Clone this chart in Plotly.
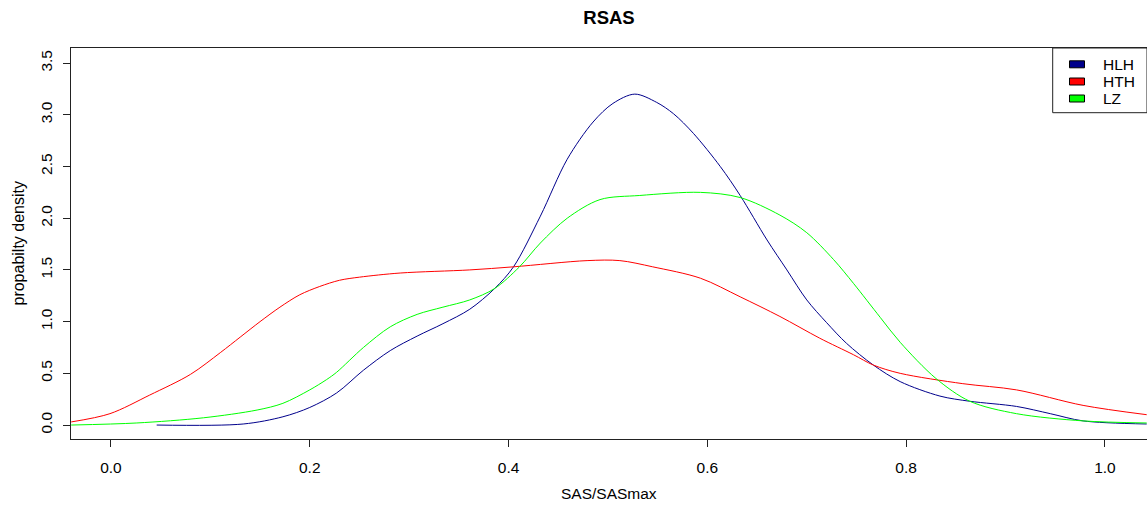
import plotly.graph_objects as go

# ---- data ----
series_names = ["HLH", "HTH", "LZ"]
series_colors = ["#00008B", "#FF0000", "#00FF00"]

hlh_x = [0.046, 0.133, 0.173, 0.200, 0.227, 0.254, 0.281, 0.308, 0.334, 0.361, 0.386,
         0.405, 0.432, 0.459, 0.485, 0.505, 0.527, 0.549, 0.566, 0.586, 0.613, 0.633,
         0.660, 0.680, 0.700, 0.720, 0.740, 0.767, 0.794, 0.834, 0.864, 0.911, 0.945,
         0.978, 1.042]
hlh_y = [0.00, 0.01, 0.08, 0.17, 0.31, 0.53, 0.72, 0.86, 0.98, 1.12, 1.32,
         1.53, 2.02, 2.57, 2.93, 3.11, 3.20, 3.12, 3.01, 2.82, 2.50, 2.22,
         1.79, 1.50, 1.21, 0.99, 0.79, 0.58, 0.42, 0.28, 0.23, 0.18, 0.11,
         0.04, 0.01]

hth_x = [-0.040, -0.001, 0.039, 0.080, 0.110, 0.130, 0.150, 0.170, 0.190, 0.210, 0.230,
         0.250, 0.291, 0.361, 0.405, 0.479, 0.512, 0.545, 0.593, 0.633, 0.673, 0.713,
         0.747, 0.767, 0.794, 0.857, 0.911, 0.978, 1.042]
hth_y = [0.03, 0.11, 0.29, 0.49, 0.70, 0.85, 1.00, 1.14, 1.26, 1.34, 1.40,
         1.43, 1.47, 1.50, 1.53, 1.59, 1.59, 1.53, 1.42, 1.24, 1.05, 0.84,
         0.68, 0.58, 0.50, 0.40, 0.34, 0.19, 0.10]

lz_x = [-0.040, 0.026, 0.093, 0.147, 0.173, 0.200, 0.217, 0.227, 0.254, 0.281, 0.308,
        0.334, 0.361, 0.386, 0.411, 0.432, 0.459, 0.492, 0.532, 0.593, 0.633, 0.673,
        0.700, 0.727, 0.747, 0.774, 0.794, 0.830, 0.864, 0.911, 0.978, 1.042]
lz_y = [0.00, 0.02, 0.07, 0.145, 0.21, 0.34, 0.44, 0.51, 0.75, 0.95, 1.07,
        1.14, 1.21, 1.32, 1.53, 1.76, 2.00, 2.18, 2.22, 2.25, 2.20, 2.03,
        1.86, 1.60, 1.37, 1.04, 0.80, 0.45, 0.23, 0.11, 0.04, 0.02]

x_ticks = [0.0, 0.2, 0.4, 0.6, 0.8, 1.0]
y_ticks = [0.0, 0.5, 1.0, 1.5, 2.0, 2.5, 3.0, 3.5]

title_text = "RSAS"
x_label = "SAS/SASmax"
y_label = "propabilty density"

# ---- layout geometry ----
W, H = 1147, 505
ML, MR, MT, MB = 71, 0, 48, 66
PW, PH = W - ML - MR, H - MT - MB
FONT = "Liberation Sans, Arial, sans-serif"


def px_x(p):
    return (p - ML) / PW


def px_y(p):
    return (H - MB - p) / PH


fig = go.Figure()
all_x = [hlh_x, hth_x, lz_x]
all_y = [hlh_y, hth_y, lz_y]
for name, color, xs, ys in zip(series_names, series_colors, all_x, all_y):
    fig.add_trace(go.Scatter(x=xs, y=ys, mode="lines", name=name,
                             line=dict(color=color, width=1, shape="spline", smoothing=0.9),
                             showlegend=False))

shapes = []
annotations = []
# legend box
shapes.append(dict(type="rect", xref="paper", yref="paper",
                   x0=px_x(1052.7), x1=1.0, y0=px_y(112.7), y1=1.0,
                   line=dict(color="#222222", width=1), fillcolor="white", layer="above"))
centers = [64.3, 81.5, 98.5]
for name, color, cy in zip(series_names, series_colors, centers):
    shapes.append(dict(type="rect", xref="paper", yref="paper",
                       x0=px_x(1069.5), x1=px_x(1084.5), y0=px_y(cy + 3.5), y1=px_y(cy - 3.5),
                       line=dict(color="#000000", width=1), fillcolor=color, layer="above"))
    annotations.append(dict(text=name, xref="paper", yref="paper", x=px_x(1100.5), y=px_y(cy),
                            xanchor="left", yanchor="middle", showarrow=False,
                            font=dict(family=FONT, size=15.5, color="#000000")))

annotations.append(dict(text=x_label, xref="paper", yref="paper", x=0.5, y=px_y(493),
                        xanchor="center", yanchor="middle", showarrow=False,
                        font=dict(family=FONT, size=15.5, color="#000000")))
annotations.append(dict(text=y_label, xref="paper", yref="paper", x=px_x(18), y=0.5,
                        xanchor="center", yanchor="middle", showarrow=False, textangle=-90,
                        font=dict(family=FONT, size=16, color="#000000")))

fig.update_layout(
    width=W, height=H,
    margin=dict(l=ML, r=MR, t=MT, b=MB),
    paper_bgcolor="white", plot_bgcolor="white",
    title=dict(text="<b>" + title_text + "</b>", x=0.5, xref="paper", xanchor="center",
               y=1 - 18 / H, yref="container", yanchor="middle",
               font=dict(family=FONT, size=18.5, color="#000000")),
    shapes=shapes, annotations=annotations,
    showlegend=False,
)
fig.update_xaxes(range=[-0.0402, 1.0423], tickvals=x_ticks, tickformat=".1f",
                 showgrid=False, zeroline=False, showline=True, mirror=True,
                 linecolor="#222222", linewidth=1, ticks="outside", ticklen=7,
                 tickcolor="#222222", ticklabelstandoff=7,
                 tickfont=dict(family=FONT, size=15.5, color="#000000"))
fig.update_yaxes(range=[-0.135, 3.646], tickvals=y_ticks, tickformat=".1f",
                 showgrid=False, zeroline=False, showline=True, mirror=True,
                 linecolor="#222222", linewidth=1, ticks="outside", ticklen=7,
                 tickcolor="#222222", tickangle=-90, ticklabelstandoff=5,
                 tickfont=dict(family=FONT, size=15.5, color="#000000"))

fig.write_html("out.html")
